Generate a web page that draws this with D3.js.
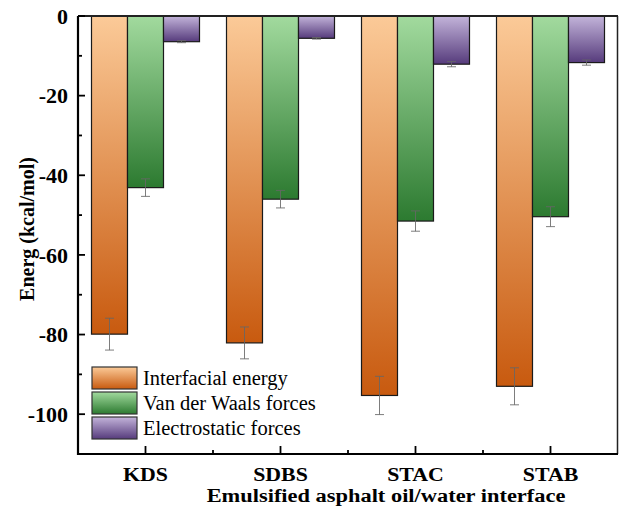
<!DOCTYPE html>
<html>
<head>
<meta charset="utf-8">
<script src="https://cdn.jsdelivr.net/npm/d3@7"></script>
<style>
  html, body { margin: 0; padding: 0; background: #fff; }
  svg text { font-family: "Liberation Serif", "Times New Roman", Times, "DejaVu Serif", serif; }
</style>
</head>
<body>
<svg id="chart" width="619" height="510"></svg>
<script>
// Interaction energies at the emulsified asphalt oil/water interface
const categories = ["KDS", "SDBS", "STAC", "STAB"];
const seriesNames = ["Interfacial energy", "Van der Waals forces", "Electrostatic forces"];
const interfacial = [-79.9, -82.1, -95.3, -93.0];
const interfacialErr = [4.0, 4.0, 4.8, 4.65];
const vdw = [-43.1, -46.0, -51.5, -50.4];
const vdwErr = [2.2, 2.2, 2.55, 2.5];
const electro = [-6.45, -5.6, -12.1, -11.7];
const electroErr = [0.25, 0.2, 0.65, 0.65];
const yTicks = [0, -20, -40, -60, -80, -100];

const seriesValues = [interfacial, vdw, electro];
const seriesErrors = [interfacialErr, vdwErr, electroErr];
const gradientStops = [
  ["#fbca98", "#c85a0f"],
  ["#a2da9e", "#2c7a30"],
  ["#c3b4da", "#563b7c"]
];
const FONT = "'Liberation Serif', 'Times New Roman', Times, serif";

const svg = d3.select("#chart");
const margin = { left: 78, right: 1, top: 16, bottom: 56 };
const W = 619, H = 510;

const x = d3.scaleBand().domain(categories).range([margin.left, W - margin.right]).padding(0);
const barW = 36;
const x1 = d3.scaleBand().domain(d3.range(3)).range([0, barW * 3]);
const y = d3.scaleLinear().domain([0, -110]).range([margin.top, H - margin.bottom]);

// vertical gradients for bars and legend swatches
const defs = svg.append("defs");
gradientStops.forEach((s, i) => {
  const g = defs.append("linearGradient").attr("id", "grad" + i)
    .attr("x1", 0).attr("y1", 0).attr("x2", 0).attr("y2", 1);
  g.append("stop").attr("offset", "0%").attr("stop-color", s[0]);
  g.append("stop").attr("offset", "100%").attr("stop-color", s[1]);
});

// bars
const groups = svg.append("g").selectAll("g").data(categories).join("g")
  .attr("transform", d => `translate(${x(d) + (x.bandwidth() - barW * 3) / 2},0)`);

groups.each(function(cat, ci) {
  const g = d3.select(this);
  seriesValues.forEach((vals, si) => {
    const v = vals[ci];
    g.append("rect")
      .attr("x", x1(si))
      .attr("y", y(0))
      .attr("width", x1.bandwidth())
      .attr("height", y(v) - y(0))
      .attr("fill", `url(#grad${si})`)
      .attr("stroke", "#1a1a1a")
      .attr("stroke-width", 1.2);
  });
  // error bars
  seriesValues.forEach((vals, si) => {
    const v = vals[ci], e = seriesErrors[si][ci];
    const cx = x1(si) + x1.bandwidth() / 2;
    const eg = g.append("g").attr("stroke", "#666").attr("stroke-width", 1).attr("stroke-opacity", 0.85);
    eg.append("line").attr("x1", cx).attr("x2", cx).attr("y1", y(v + e)).attr("y2", y(v - e));
    eg.append("line").attr("x1", cx - 4.5).attr("x2", cx + 4.5).attr("y1", y(v + e)).attr("y2", y(v + e));
    eg.append("line").attr("x1", cx - 4.5).attr("x2", cx + 4.5).attr("y1", y(v - e)).attr("y2", y(v - e));
  });
});

// frame: top and right
svg.append("line").attr("x1", margin.left).attr("x2", W - margin.right)
  .attr("y1", y(0)).attr("y2", y(0)).attr("stroke", "#222").attr("stroke-width", 1.8);
svg.append("line").attr("x1", W - margin.right - 0.5).attr("x2", W - margin.right - 0.5)
  .attr("y1", y(0)).attr("y2", y(-110)).attr("stroke", "#222").attr("stroke-width", 1.5);

// y axis
const yAxis = svg.append("g").attr("transform", `translate(${margin.left},0)`);
yAxis.append("line").attr("x1", 0).attr("x2", 0).attr("y1", y(0)).attr("y2", y(-110) + 1)
  .attr("stroke", "#000").attr("stroke-width", 2.2);
const yMinor = d3.range(-10, -110, -20);
yAxis.selectAll(".ymaj").data(yTicks).join("line")
  .attr("x1", 0).attr("x2", 7).attr("y1", d => y(d)).attr("y2", d => y(d))
  .attr("stroke", "#000").attr("stroke-width", 1.8);
yAxis.selectAll(".ymin").data(yMinor).join("line")
  .attr("x1", 0).attr("x2", 4).attr("y1", d => y(d)).attr("y2", d => y(d))
  .attr("stroke", "#000").attr("stroke-width", 1.8);
yAxis.selectAll("text").data(yTicks).join("text")
  .attr("x", -10).attr("y", d => y(d)).attr("dy", "0.35em")
  .attr("font-family", FONT)
  .attr("text-anchor", "end").attr("font-size", 22).attr("font-weight", "bold")
  .text(d => d3.format("d")(d).replace("−", "-"));

// x axis (labels slightly widened horizontally)
const xAxis = svg.append("g");
const yb = y(-110);
xAxis.append("line").attr("x1", margin.left - 1).attr("x2", W - margin.right)
  .attr("y1", yb).attr("y2", yb).attr("stroke", "#000").attr("stroke-width", 2.2);
xAxis.selectAll(".xmaj").data(categories).join("line")
  .attr("x1", d => x(d) + x.bandwidth() / 2).attr("x2", d => x(d) + x.bandwidth() / 2)
  .attr("y1", yb).attr("y2", yb - 8).attr("stroke", "#000").attr("stroke-width", 1.8);
xAxis.selectAll(".xmin").data(categories.slice(1)).join("line")
  .attr("x1", d => x(d)).attr("x2", d => x(d))
  .attr("y1", yb).attr("y2", yb - 4).attr("stroke", "#000").attr("stroke-width", 1.8);
xAxis.selectAll("text").data(categories).join("text")
  .attr("transform", d => `translate(${x(d) + x.bandwidth() / 2},${yb + 27}) scale(1.15,1)`)
  .attr("font-family", FONT)
  .attr("text-anchor", "middle").attr("font-size", 19).attr("font-weight", "bold")
  .text(d => d);

// axis titles
svg.append("text")
  .attr("transform", "translate(386,502) scale(1.15,1)")
  .attr("font-family", FONT)
  .attr("text-anchor", "middle").attr("font-size", 19.5).attr("font-weight", "bold")
  .text("Emulsified asphalt oil/water interface");
svg.append("text")
  .attr("transform", "translate(34,229) rotate(-90)")
  .attr("font-family", FONT)
  .attr("text-anchor", "middle").attr("font-size", 20).attr("font-weight", "bold")
  .text("Energ (kcal/mol)");

// legend
const legend = svg.append("g").attr("transform", "translate(92,367)");
seriesNames.forEach((name, i) => {
  const row = legend.append("g").attr("transform", `translate(0,${i * 25})`);
  row.append("rect").attr("width", 45).attr("height", 22)
    .attr("fill", `url(#grad${i})`).attr("stroke", "#333").attr("stroke-width", 1.2);
  row.append("text").attr("x", 51).attr("y", 11).attr("dy", "0.35em")
    .attr("font-family", FONT)
    .attr("font-size", 20.5).text(name);
});
</script>
</body>
</html>
